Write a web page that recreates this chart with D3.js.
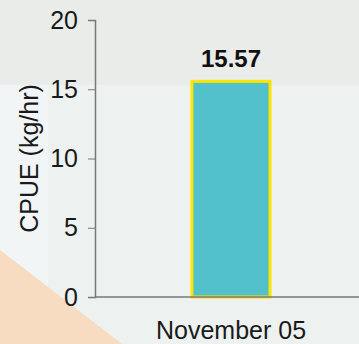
<!DOCTYPE html>
<html>
<head>
<meta charset="utf-8">
<script src="https://cdn.jsdelivr.net/npm/d3@7"></script>
<style>
  html, body { margin: 0; padding: 0; background: #eceeee; }
  svg { display: block; font-family: Arial, "Liberation Sans", Helvetica, sans-serif; }
</style>
</head>
<body>
<script>
// CPUE per survey month
const categories = ["November 05"];
const cpue = [15.57];
const yTicks = [0, 5, 10, 15, 20];

const W = 359, H = 344;
const margin = { left: 95, right: 0, top: 20, bottom: 47 };
const FONT = "Arial, 'Liberation Sans', sans-serif";

const svg = d3.select("body").append("svg").attr("width", W).attr("height", H);

// soft backdrop panels
svg.append("rect").attr("x", 0).attr("y", 0).attr("width", W).attr("height", H).attr("fill", "#eaecea");
svg.append("rect").attr("x", 0).attr("y", 85).attr("width", W).attr("height", H - 85).attr("fill", "#edf2f1");
svg.append("rect").attr("x", 0).attr("y", 85).attr("width", 48).attr("height", H - 85).attr("fill", "#f1f5f5");
svg.append("path").attr("d", `M0,250 L122,${H} L0,${H} Z`).attr("fill", "#f7dcc2");

const y = d3.scaleLinear().domain([0, 20]).range([H - margin.bottom, margin.top]);
const x = d3.scaleBand().domain(categories).range([margin.left, 367])
  .paddingInner(0).paddingOuter(1.24);

// bars
svg.selectAll("rect.bar").data(categories).enter().append("rect")
  .attr("class", "bar")
  .attr("x", d => x(d))
  .attr("width", x.bandwidth())
  .attr("y", (d, i) => y(cpue[i]))
  .attr("height", (d, i) => y(0) - y(cpue[i]))
  .attr("fill", "#52c1cb")
  .attr("stroke", "#ffe600")
  .attr("stroke-width", 3);

// value labels
svg.selectAll("text.val").data(categories).enter().append("text")
  .attr("class", "val")
  .attr("x", d => x(d) + x.bandwidth() / 2)
  .attr("y", (d, i) => y(cpue[i]) - 14)
  .attr("text-anchor", "middle")
  .attr("font-family", FONT)
  .attr("font-size", 24).attr("font-weight", "bold").attr("fill", "#111")
  .text((d, i) => cpue[i].toFixed(2));

// y axis
const yAxis = svg.append("g").attr("transform", `translate(${margin.left},0)`)
  .call(d3.axisLeft(y).tickValues(yTicks).tickSize(7).tickPadding(10));
yAxis.selectAll("text").attr("font-size", 25).attr("fill", "#1a1a1a").attr("font-family", FONT);
yAxis.selectAll("line").attr("stroke", "#777");
yAxis.select(".domain").attr("stroke", "#777").attr("stroke-width", 1.5);

// x axis
const xAxis = svg.append("g").attr("transform", `translate(0,${y(0)})`)
  .call(d3.axisBottom(x).tickSize(0).tickPadding(24));
xAxis.select(".domain").attr("stroke", "#777").attr("stroke-width", 1.5)
  .attr("d", `M${margin.left},0H${W}`);
xAxis.selectAll("text").attr("font-size", 25).attr("fill", "#1a1a1a").attr("font-family", FONT);

// y axis title
svg.append("text")
  .attr("transform", `translate(38,${(y(0) + y(20)) / 2}) rotate(-90)`)
  .attr("text-anchor", "middle")
  .attr("font-family", FONT)
  .attr("font-size", 25).attr("fill", "#1a1a1a")
  .text("CPUE (kg/hr)");
</script>
</body>
</html>
